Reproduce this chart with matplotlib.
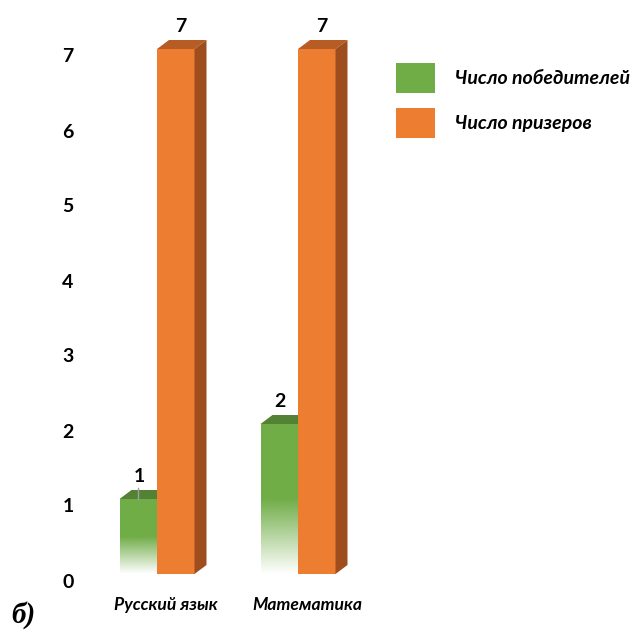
import numpy as np
import matplotlib
matplotlib.use("Agg")
import matplotlib.pyplot as plt
from matplotlib.patches import Polygon, Patch
from matplotlib.transforms import ScaledTranslation, blended_transform_factory

categories = ["Русский язык", "Математика"]
winners = [1, 2]
prizers = [7, 7]
series_names = ["Число победителей", "Число призеров"]
yticks = [0, 1, 2, 3, 4, 5, 6, 7]

GREEN = "#70AD47"
GREEN_TOP = "#548235"
ORANGE = "#ED7D31"
ORANGE_TOP = "#B65C24"
ORANGE_SIDE = "#9E4E1E"

W, H = 639, 631
fig = plt.figure(figsize=(W / 100, H / 100), dpi=100)

# axes in pixel geometry
left_px, right_px, bottom_px, top_px = 95, 380, 574, 20
ax = fig.add_axes([left_px / W, 1 - bottom_px / H, (right_px - left_px) / W, (bottom_px - top_px) / H])
ppu_x = 141.0
ppu_y = 75.0
xlim = ((left_px - 157) / ppu_x, (right_px - 157) / ppu_x)
ylim = (0, (bottom_px - top_px) / ppu_y)

bw = 37.5 / ppu_x
dx = 12 / ppu_x
dy = 9 / ppu_y

font = "Lato"

def bar3d(x0, h, front, top, side, gradient=False):
    x1 = x0 + bw
    if gradient:
        n = 200
        alpha = np.clip(np.linspace(0, 1, n) / 0.5, 0, 1)
        rgb = matplotlib.colors.to_rgb(front)
        img = np.zeros((n, 1, 4))
        img[:, 0, :3] = rgb
        img[:, 0, 3] = alpha
        ax.imshow(img, extent=[x0, x1, 0, h], origin="lower", aspect="auto",
                  interpolation="bilinear", zorder=2)
    else:
        ax.add_patch(Polygon([(x0, 0), (x1, 0), (x1, h), (x0, h)], closed=True,
                             facecolor=front, edgecolor="none", zorder=2))
    ax.add_patch(Polygon([(x0, h), (x1, h), (x1 + dx, h + dy), (x0 + dx, h + dy)],
                         closed=True, facecolor=top, edgecolor="none", zorder=2))
    if side is not None:
        ax.add_patch(Polygon([(x1, 0), (x1 + dx, dy), (x1 + dx, h + dy), (x1, h)],
                             closed=True, facecolor=side, edgecolor="none", zorder=2))

for i, (w, p) in enumerate(zip(winners, prizers)):
    bar3d(i - bw, w, GREEN, GREEN_TOP, None, gradient=True)
    bar3d(i, p, ORANGE, ORANGE_TOP, ORANGE_SIDE)
    off = ScaledTranslation(0, 5 / 100, fig.dpi_scale_trans)
    ax.text(i - bw / 2 + 1 / ppu_x, w + dy, str(w), transform=ax.transData + off,
            ha="center", va="bottom", fontsize=14, fontweight="bold", family=font, zorder=5)
    ax.text(i + bw / 2 + 5 / ppu_x, p + dy, str(p), transform=ax.transData + off,
            ha="center", va="bottom", fontsize=14, fontweight="bold", family=font, zorder=5)

# small leader line for the first winners label
ax.plot([-bw / 2, -bw / 2], [winners[0], winners[0] + dy + 2 / ppu_y], color="#A0A0A0",
        lw=1, zorder=4)

ax.set_xlim(*xlim)
ax.set_ylim(*ylim)
ax.axis("off")

# y tick labels
ytr = blended_transform_factory(fig.transFigure, ax.transData) + ScaledTranslation(0, -8 / 100, fig.dpi_scale_trans)
for t in yticks:
    ax.text(68 / W, t, str(t), transform=ytr, ha="center", va="center",
            fontsize=14, fontweight="bold", family=font, clip_on=False)

# category labels
ctr = ax.transData + ScaledTranslation(9 / 100, -31 / 100, fig.dpi_scale_trans)
for i, c in enumerate(categories):
    ax.text(i, 0, c, transform=ctr, ha="center", va="center", fontsize=12.6,
            fontweight="bold", style="italic", family=font, clip_on=False)

handles = [Patch(facecolor=GREEN, edgecolor="none"), Patch(facecolor=ORANGE, edgecolor="none")]
fig.legend(handles, series_names, loc="upper left", bbox_to_anchor=(396 / W, 1 - 63 / H),
           frameon=False, borderpad=0, borderaxespad=0, handlelength=2.0, handleheight=2.0,
           handletextpad=1.03, labelspacing=0.78,
           prop={"family": font, "weight": "bold", "style": "italic", "size": 14})

fig.text(11 / W, 1 - 615 / H, "б)", fontsize=21, fontweight="bold", style="italic",
         family="Liberation Serif", ha="left", va="center")

fig.savefig("out.png", dpi=100)
